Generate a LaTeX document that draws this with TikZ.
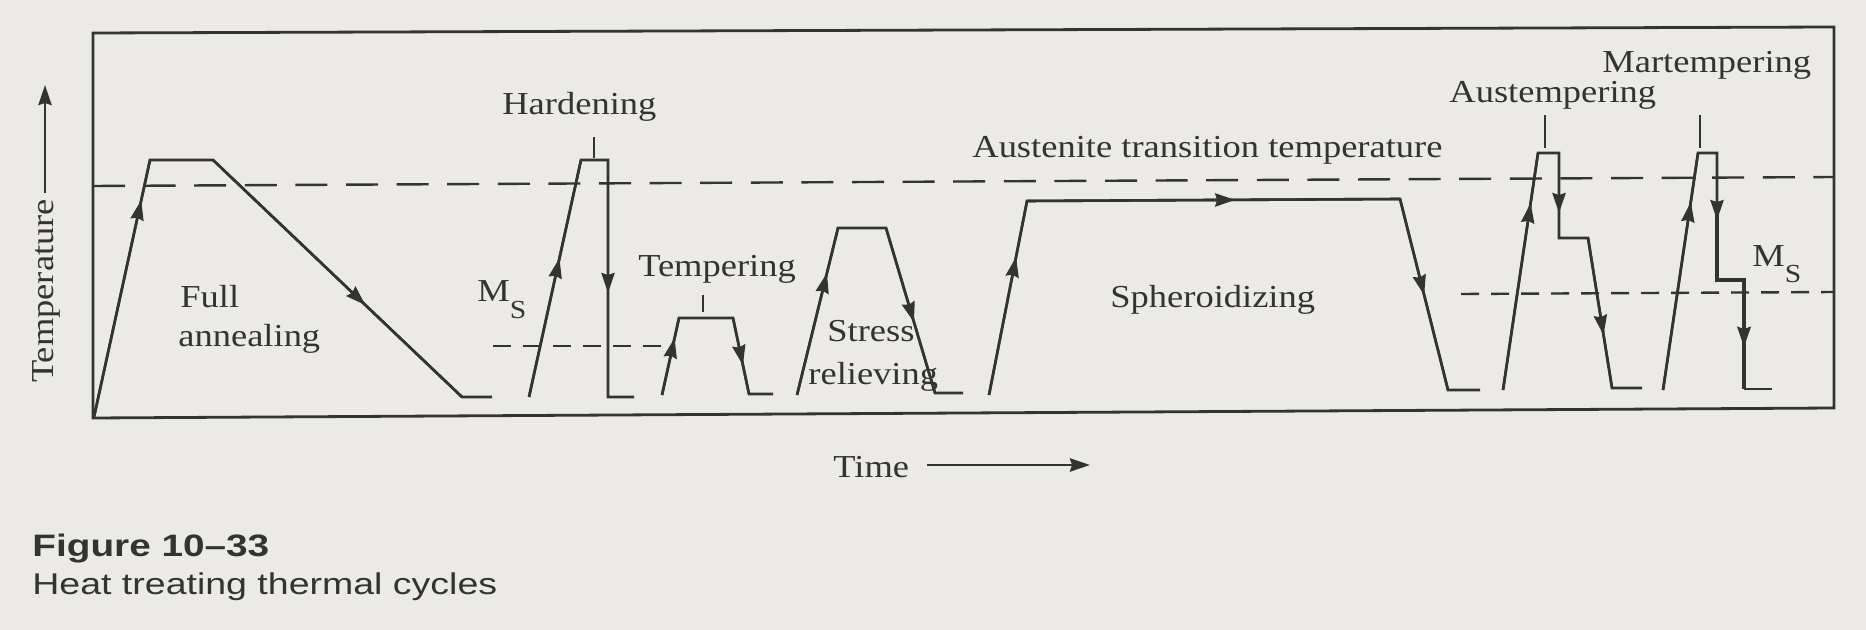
\documentclass[tikz,border=0pt]{standalone}
\usepackage{fontspec}
\setmainfont{Liberation Serif}[FakeStretch=1.14]
\newfontfamily\capfont{Liberation Sans}[FakeStretch=1.25]
\usetikzlibrary{arrows.meta,decorations.markings}
\definecolor{paper}{HTML}{ECEAE7}
\definecolor{ink}{HTML}{333333}
\tikzset{tip/.tip={Stealth[length=10pt,width=6.6pt,inset=1pt]}}
\begin{document}
\begin{tikzpicture}[x=0.5pt,y=-0.5pt,
  curve/.style={draw=ink,line width=1.3pt,line join=miter},
  heavy/.style={draw=ink,line width=1.9pt,line join=miter},
  frameline/.style={draw=ink,line width=1.4pt},
  austline/.style={draw=ink,line width=1.2pt,dash pattern=on 16pt off 9.3pt},
  msline/.style={draw=ink,line width=1.2pt,dash pattern=on 9pt off 6pt},
  tickline/.style={draw=ink,line width=1.1pt},
  tipat/.style={postaction={decorate},decoration={markings,
    mark=at position #1 with {\arrow{tip}}}},
  lbl/.style={inner sep=0pt,text=ink,font=\fontsize{16pt}{20pt}\selectfont},
  captext/.style={inner sep=0pt,text=ink,font=\capfont\fontsize{15pt}{19pt}\selectfont},
]
% paper
\fill[paper] (0,0) rectangle (1866,630);

% plot frame
\draw[frameline] (93,33) -- (1834,27) -- (1834,408) -- (93,418) -- cycle;

% austenite transition and Ms levels
\draw[austline] (93,186) -- (1834,177);
\draw[msline] (493,346) -- (671,346);
\draw[msline] (1461,294) -- (1834,292);

% full annealing
\draw[curve] (94,417) -- (150,160) -- (213,160) -- (462,397) -- (492,397);
\draw[curve,tipat=0.844] (94,417) -- (150,160);
\draw[curve,tipat=0.612] (213,160) -- (462,397);

% hardening
\draw[curve] (529,397) -- (581,160) -- (608,160) -- (608,397) -- (634,397);
\draw[curve,tipat=0.586] (529,397) -- (581,160);
\draw[curve,tipat=0.561] (608,160) -- (608,397);
\draw[tickline] (594,137) -- (594,158);

% tempering
\draw[curve] (662,395) -- (679,318) -- (733,318) -- (749,394) -- (773,394);
\draw[curve,tipat=0.74] (662,395) -- (679,318);
\draw[curve,tipat=0.62] (733,318) -- (749,394);
\draw[tickline] (703,295) -- (703,312);

% stress relieving
\draw[curve] (797,395) -- (838,228) -- (886,228) -- (935,393) -- (963,393);
\draw[curve,tipat=0.73] (797,395) -- (838,228);
\draw[curve,tipat=0.57] (886,228) -- (935,393);

% spheroidizing
\draw[curve] (989,395) -- (1027,201) -- (1400,199) -- (1448,390) -- (1480,390);
\draw[curve,tipat=0.711] (989,395) -- (1027,201);
\draw[curve,tipat=0.558] (1027,201) -- (1400,199);
\draw[curve,tipat=0.503] (1400,199) -- (1448,390);

% austempering
\draw[curve] (1503,390) -- (1538,153) -- (1559,153) -- (1559,238) -- (1588,238) -- (1612,388) -- (1642,388);
\draw[curve,tipat=0.789] (1503,390) -- (1538,153);
\draw[curve,tipat=0.706] (1559,153) -- (1559,238);
\draw[curve,tipat=0.647] (1588,238) -- (1612,388);
\draw[tickline] (1545,115) -- (1545,148);

% martempering
\draw[curve] (1663,390) -- (1698,153) -- (1717,153) -- (1717,215);
\draw[heavy] (1717,212) -- (1717,280) -- (1744,280) -- (1744,389);
\draw[curve] (1744,389) -- (1772,389);
\draw[curve,tipat=0.793] (1663,390) -- (1698,153);
\draw[curve,tipat=0.528] (1717,153) -- (1717,280);
\draw[heavy,tipat=0.615] (1744,280) -- (1744,389);
\draw[tickline] (1700,115) -- (1700,148);

% axes labels
\node[lbl,rotate=90,anchor=base] (ytitle) at (54,291) {Temperature};
\coordinate (ystart) at (45,193);
\coordinate (yend) at (45,85);
\draw[curve,-tip] (ystart) -- (yend);
\node[lbl,anchor=base west] (xtitle) at (833,477) {Time};
\coordinate (xstart) at (927,465);
\coordinate (xend) at (1090,465);
\draw[curve,-tip] (xstart) -- (xend);

% cycle labels
\node[lbl,anchor=base west] (full) at (180,307) {Full};
\node[lbl,anchor=base west] (anneal) at (178,346) {annealing};
\node[lbl,anchor=base west] (hard) at (502,115) {Hardening};
\node[lbl,anchor=base] (temp) at (717,277) {Tempering};
\node[lbl,anchor=base west] (stress) at (827,342) {Stress};
\node[lbl,anchor=base west] (reliev) at (808,384) {relieving};
\node[lbl,anchor=base west] (aus) at (972,158) {Austenite transition temperature};
\node[lbl,anchor=base west] (spher) at (1110,307) {Spheroidizing};
\node[lbl,anchor=base west] (austemp) at (1449,103) {Austempering};
\node[lbl,anchor=base west] (martemp) at (1602,73) {Martempering};
\node[lbl,anchor=base west] (msleft) at (477,302) {M\raisebox{-8.5pt}{\fontsize{13pt}{14pt}\selectfont S}};
\node[lbl,anchor=base west] (msright) at (1752,267) {M\raisebox{-8pt}{\fontsize{13pt}{14pt}\selectfont S}};

% caption
\node[captext,anchor=base west,font=\capfont\bfseries\fontsize{15.5pt}{19pt}\selectfont] (fignum) at (32,556) {Figure 10–33};
\node[captext,anchor=base west] (figtext) at (32,594) {Heat treating thermal cycles};
\end{tikzpicture}
\end{document}
